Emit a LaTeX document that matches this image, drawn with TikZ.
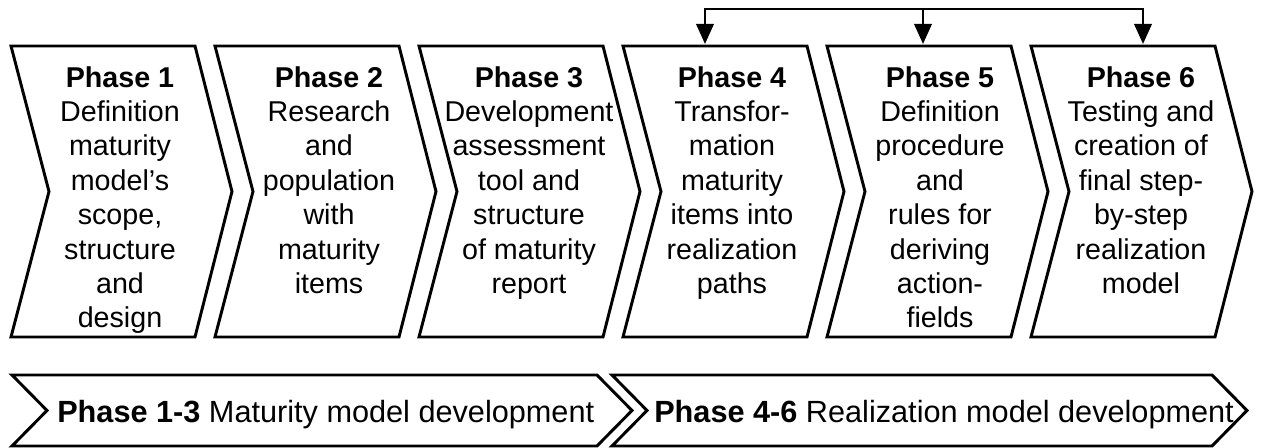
\documentclass[tikz,border=0pt]{standalone}
\usepackage{fontspec}
\setmainfont{Liberation Sans}
\usepackage{tikz}
\usetikzlibrary{arrows.meta}
\tikzstyle{chevron}=[
  draw=black, line width=2.2pt, line join=miter, fill=white
]
\tikzstyle{phasetext}=[
  align=center, inner sep=0pt, anchor=north, font=\fontsize{21.5}{25.8}\selectfont
]
\tikzstyle{bannertext}=[
  inner sep=0pt, anchor=base west, font=\fontsize{23}{28}\selectfont
]
\tikzstyle{fork}=[
  line width=1.9pt, line cap=rect
]
\tikzstyle{flow}=[
  line width=1.9pt, -{Triangle[length=15pt,width=13pt]}
]
\newcommand{\phaseshape}[1]{%
  \draw [chevron] (#1,46) -- ++(184,0) -- ++(37,145.5) -- ++(-37,145.5)
    -- ++(-184,0) -- ++(38,-145.5) -- cycle;
}

\begin{document}
\begin{tikzpicture}[x=0.75pt, y=-0.75pt]
      \useasboundingbox (0,0) rectangle (1261,448);
      \def\lvl{66}
        % phases
        \phaseshape{11}
        \phaseshape{215}
        \phaseshape{419}
        \phaseshape{623}
        \phaseshape{827}
        \phaseshape{1031}
        \node (ph1) at (120,\lvl) [phasetext] {\textbf{Phase 1}\\Definition\\maturity\\model's\\scope,\\structure\\and\\design};
        \node (ph2) at (329,\lvl) [phasetext] {\textbf{Phase 2}\\Research\\and\\population\\with\\maturity\\items};
        \node (ph3) at (529,\lvl) [phasetext] {\textbf{Phase 3}\\Development\\assessment\\tool and\\structure\\of maturity\\report};
        \node (ph4) at (732,\lvl) [phasetext] {\textbf{Phase 4}\\Transfor-\\mation\\maturity\\items into\\realization\\paths};
        \node (ph5) at (940,\lvl) [phasetext] {\textbf{Phase 5}\\Definition\\procedure\\and\\rules for\\deriving\\action-\\fields};
        \node (ph6) at (1141,\lvl) [phasetext] {\textbf{Phase 6}\\Testing and\\creation of\\final step-\\by-step\\realization\\model};

        % feedback to phases 4-6
        \coordinate (fork4) at (705,9);
        \coordinate (fork5) at (923,9);
        \coordinate (fork6) at (1143,9);
        \coordinate (top4) at (705,44);
        \coordinate (top5) at (923,44);
        \coordinate (top6) at (1143,44);
        \draw [fork] (fork4) -- (fork6);
        \draw [flow] (fork4) -- (top4);
        \draw [flow] (fork5) -- (top5);
        \draw [flow] (fork6) -- (top6);

        % overall stages
        \draw [chevron] (12,375) -- (597,375) -- (632,410.5) -- (597,446) -- (12,446) -- (47,410.5) -- cycle;
        \draw [chevron] (612,375) -- (1212,375) -- (1247,410.5) -- (1212,446) -- (612,446) -- (647,410.5) -- cycle;
        \node (mmdev) at (57,423) [bannertext] {\textbf{Phase 1-3} Maturity model development};
        \node (rmdev) at (654,423) [bannertext] {\textbf{Phase 4-6} Realization model development};
    \end{tikzpicture}
\end{document}
